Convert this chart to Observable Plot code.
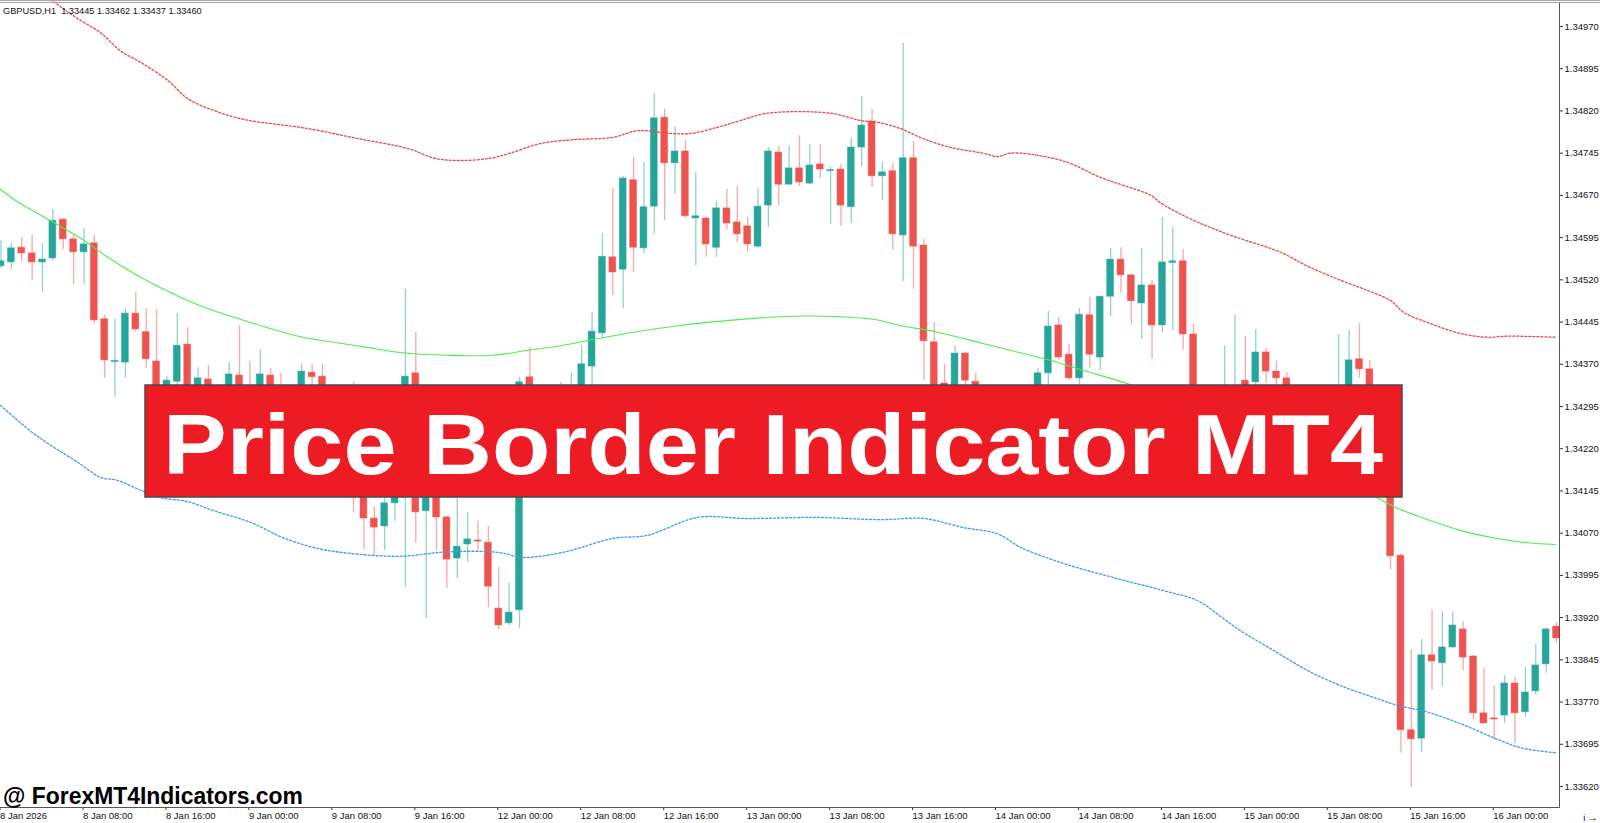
<!DOCTYPE html>
<html>
<head>
<meta charset="utf-8">
<script src="https://cdn.jsdelivr.net/npm/d3@7"></script>
<script src="https://cdn.jsdelivr.net/npm/@observablehq/plot@0.6"></script>
<style>
  html, body { margin: 0; padding: 0; background: #fff; overflow: hidden; }
  #chart svg { display: block; }
</style>
</head>
<body>
<div id="chart"></div>
<script>
const symbolHeader = "GBPUSD,H1  1.33445 1.33462 1.33437 1.33460";
const bannerText = "Price Border Indicator MT4";
const watermark = "@ ForexMT4Indicators.com";

const timeTicks = [0, 8, 16, 24, 32, 40, 48, 56, 64, 72, 80, 88, 96, 104, 112, 120, 128, 136, 144];
const timeLabels = ["8 Jan 2026", "8 Jan 08:00", "8 Jan 16:00", "9 Jan 00:00", "9 Jan 08:00", "9 Jan 16:00",
  "12 Jan 00:00", "12 Jan 08:00", "12 Jan 16:00", "13 Jan 00:00", "13 Jan 08:00", "13 Jan 16:00",
  "14 Jan 00:00", "14 Jan 08:00", "14 Jan 16:00", "15 Jan 00:00", "15 Jan 08:00", "15 Jan 16:00", "16 Jan 00:00"];
const priceTicks = [1.34970, 1.34895, 1.34820, 1.34745, 1.34670, 1.34595, 1.34520, 1.34445, 1.34370, 1.34295,
  1.34220, 1.34145, 1.34070, 1.33995, 1.33920, 1.33845, 1.33770, 1.33695, 1.33620];

const opens = [1.34544,1.34551,1.34577,1.34567,1.34551,1.34558,1.34627,1.34592,1.34569,1.34585,
1.34450,1.34374,1.34373,1.34460,1.34427,1.34375,1.34309,1.34339,1.34405,1.34320,
1.34343,1.34323,1.34309,1.34350,1.34320,1.34306,1.34350,1.34315,1.34299,1.34320,
1.34355,1.34348,1.34306,1.34261,1.34213,1.34142,1.34096,1.34082,1.34123,1.34155,
1.34354,1.34109,1.34164,1.34098,1.34025,1.34050,1.34057,1.34053,1.33936,1.33910,
1.33933,1.34347,1.34315,1.34288,1.34309,1.34306,1.34320,1.34366,1.34425,1.34560,
1.34538,1.34697,1.34576,1.34650,1.34808,1.34727,1.34748,1.34629,1.34629,1.34577,
1.34647,1.34622,1.34615,1.34579,1.34652,1.34746,1.34689,1.34718,1.34691,1.34725,
1.34713,1.34716,1.34649,1.34755,1.34801,1.34704,1.34713,1.34599,1.34736,1.34581,
1.34409,1.34336,1.34288,1.34389,1.34339,1.34306,1.34270,1.34297,1.34261,1.34306,
1.34315,1.34354,1.34439,1.34387,1.34345,1.34457,1.34382,1.34490,1.34556,1.34528,
1.34478,1.34510,1.34439,1.34550,1.34553,1.34423,1.34306,1.34279,1.34309,1.34323,
1.34341,1.34338,1.34391,1.34357,1.34345,1.34315,1.34288,1.34306,1.34284,1.34306,
1.34323,1.34379,1.34361,1.34270,1.34181,1.34030,1.33720,1.33705,1.33853,1.33839,
1.33867,1.33899,1.33851,1.33750,1.33741,1.33746,1.33803,1.33752,1.33789,1.33837,
1.33904];
const highs = [1.34590,1.34585,1.34595,1.34599,1.34585,1.34645,1.34628,1.34599,1.34611,1.34599,
1.34457,1.34450,1.34469,1.34498,1.34469,1.34467,1.34348,1.34460,1.34435,1.34364,
1.34368,1.34331,1.34373,1.34439,1.34375,1.34396,1.34363,1.34354,1.34327,1.34370,
1.34370,1.34370,1.34315,1.34274,1.34338,1.34153,1.34117,1.34139,1.34167,1.34503,
1.34427,1.34178,1.34181,1.34101,1.34133,1.34107,1.34091,1.34082,1.34009,1.33982,
1.34347,1.34400,1.34327,1.34323,1.34338,1.34354,1.34403,1.34462,1.34602,1.34682,
1.34704,1.34737,1.34729,1.34851,1.34823,1.34792,1.34768,1.34711,1.34631,1.34659,
1.34681,1.34686,1.34631,1.34682,1.34755,1.34757,1.34757,1.34776,1.34760,1.34760,
1.34720,1.34725,1.34771,1.34846,1.34823,1.34729,1.34727,1.34940,1.34766,1.34592,
1.34444,1.34370,1.34402,1.34391,1.34354,1.34320,1.34309,1.34309,1.34320,1.34331,
1.34363,1.34464,1.34453,1.34405,1.34469,1.34489,1.34491,1.34576,1.34577,1.34529,
1.34576,1.34519,1.34631,1.34613,1.34574,1.34441,1.34320,1.34323,1.34402,1.34457,
1.34419,1.34432,1.34398,1.34375,1.34355,1.34327,1.34320,1.34315,1.34323,1.34423,
1.34430,1.34442,1.34377,1.34279,1.34199,1.34034,1.33862,1.33881,1.33933,1.33931,
1.33931,1.33913,1.33852,1.33830,1.33798,1.33817,1.33814,1.33831,1.33872,1.33902,
1.33911];
const lows = [1.34540,1.34538,1.34553,1.34519,1.34498,1.34553,1.34574,1.34512,1.34512,1.34441,
1.34345,1.34311,1.34345,1.34428,1.34363,1.34302,1.34297,1.34327,1.34309,1.34306,
1.34313,1.34292,1.34302,1.34309,1.34288,1.34299,1.34306,1.34288,1.34284,1.34313,
1.34327,1.34288,1.34249,1.34190,1.34107,1.34041,1.34030,1.34039,1.34091,1.33974,
1.34052,1.33918,1.34039,1.33972,1.33989,1.34018,1.34036,1.33938,1.33899,1.33906,
1.33901,1.34302,1.34274,1.34270,1.34297,1.34288,1.34309,1.34332,1.34416,1.34492,
1.34469,1.34533,1.34567,1.34602,1.34625,1.34672,1.34629,1.34545,1.34560,1.34560,
1.34608,1.34586,1.34569,1.34576,1.34613,1.34652,1.34688,1.34686,1.34689,1.34700,
1.34618,1.34615,1.34620,1.34721,1.34684,1.34661,1.34572,1.34517,1.34503,1.34341,
1.34288,1.34279,1.34274,1.34315,1.34284,1.34252,1.34256,1.34235,1.34249,1.34288,
1.34302,1.34334,1.34377,1.34341,1.34334,1.34363,1.34359,1.34455,1.34496,1.34441,
1.34414,1.34379,1.34427,1.34430,1.34396,1.34288,1.34261,1.34270,1.34297,1.34306,
1.34306,1.34329,1.34336,1.34327,1.34306,1.34270,1.34279,1.34270,1.34274,1.34297,
1.34320,1.34345,1.34252,1.34160,1.34005,1.33679,1.33618,1.33680,1.33791,1.33798,
1.33866,1.33826,1.33739,1.33731,1.33702,1.33732,1.33696,1.33743,1.33782,1.33821,
1.33874];
const closes = [1.34553,1.34576,1.34567,1.34551,1.34556,1.34625,1.34592,1.34569,1.34583,1.34448,
1.34377,1.34375,1.34460,1.34432,1.34379,1.34315,1.34341,1.34403,1.34320,1.34345,
1.34323,1.34309,1.34352,1.34320,1.34306,1.34352,1.34315,1.34302,1.34320,1.34357,
1.34347,1.34306,1.34261,1.34213,1.34142,1.34096,1.34080,1.34123,1.34149,1.34348,
1.34107,1.34164,1.34098,1.34023,1.34046,1.34059,1.34055,1.33975,1.33906,1.33929,
1.34338,1.34315,1.34288,1.34315,1.34327,1.34327,1.34370,1.34428,1.34561,1.34533,
1.34700,1.34577,1.34649,1.34807,1.34727,1.34748,1.34633,1.34633,1.34583,1.34647,
1.34620,1.34601,1.34583,1.34650,1.34748,1.34689,1.34718,1.34693,1.34723,1.34716,
1.34714,1.34652,1.34755,1.34794,1.34704,1.34711,1.34601,1.34736,1.34579,1.34411,
1.34306,1.34297,1.34389,1.34341,1.34306,1.34270,1.34297,1.34261,1.34306,1.34323,
1.34354,1.34437,1.34382,1.34345,1.34458,1.34387,1.34490,1.34556,1.34528,1.34482,
1.34510,1.34439,1.34551,1.34553,1.34423,1.34306,1.34279,1.34315,1.34332,1.34331,
1.34320,1.34391,1.34357,1.34345,1.34315,1.34288,1.34306,1.34284,1.34309,1.34323,
1.34377,1.34361,1.34270,1.34181,1.34029,1.33720,1.33704,1.33853,1.33842,1.33867,
1.33906,1.33849,1.33750,1.33732,1.33739,1.33803,1.33750,1.33787,1.33835,1.33899,
1.33883];

// Price Border bands: [bar index, price]
const upperBand = [[3.8,1.35030],[5.3,1.35011],[7.4,1.34984],[9.6,1.34959],[11.5,1.34927],[13.5,1.34906],
[16.1,1.34874],[18.0,1.34842],[20.5,1.34821],[23.4,1.34805],[29.5,1.34789],[34.4,1.34771],[39.3,1.34753],
[41.8,1.34736],[44.3,1.34732],[47.2,1.34736],[49.1,1.34745],[52.0,1.34762],[55.2,1.34769],[59.0,1.34773],
[61.4,1.34785],[64.6,1.34780],[66.5,1.34780],[69.1,1.34791],[71.3,1.34803],[73.9,1.34816],[80.0,1.34816],
[82.9,1.34803],[84.5,1.34800],[86.7,1.34789],[88.9,1.34771],[91.6,1.34755],[94.7,1.34745],[96.1,1.34739],
[97.3,1.34745],[99.3,1.34743],[102.8,1.34729],[106.0,1.34702],[108.2,1.34688],[110.9,1.34670],[111.8,1.34657],
[113.1,1.34643],[115.7,1.34620],[118.6,1.34599],[123.4,1.34569],[125.9,1.34545],[129.2,1.34519],[131.8,1.34501],
[134.0,1.34483],[135.3,1.34462],[137.6,1.34444],[140.7,1.34425],[143.3,1.34418],[145.3,1.34420],[149.9,1.34418]];
const middleBand = [[-0.05,1.34681],[1.4,1.34661],[4.8,1.34625],[8.0,1.34590],[10.3,1.34560],[13.5,1.34524],
[17.3,1.34489],[19.9,1.34469],[23.1,1.34450],[25.7,1.34435],[28.9,1.34419],[32.1,1.34409],[35.3,1.34400],
[38.5,1.34391],[43.1,1.34386],[47.5,1.34386],[50.8,1.34395],[54.0,1.34403],[57.1,1.34414],[61.0,1.34427],
[65.5,1.34439],[70.3,1.34448],[75.5,1.34455],[80.3,1.34455],[84.1,1.34450],[86.7,1.34439],[90.3,1.34427],
[94.7,1.34407],[98.6,1.34389],[101.2,1.34377],[104.4,1.34359],[108.9,1.34334],[115.7,1.34288],[121.5,1.34235],
[127.2,1.34181],[132.7,1.34133],[134.7,1.34114],[137.6,1.34094],[140.7,1.34075],[143.9,1.34062],[147.2,1.34053],
[149.9,1.34050]];
const lowerBand = [[-0.05,1.34297],[2.8,1.34252],[4.8,1.34226],[7.4,1.34196],[9.6,1.34169],[11.2,1.34164],
[13.5,1.34146],[15.4,1.34133],[18.0,1.34126],[20.5,1.34110],[24.1,1.34089],[27.2,1.34062],[30.5,1.34043],
[33.7,1.34034],[38.5,1.34029],[43.1,1.34037],[47.9,1.34036],[50.4,1.34027],[54.2,1.34036],[59.1,1.34061],
[62.3,1.34066],[67.2,1.34098],[72.0,1.34096],[78.6,1.34098],[84.8,1.34094],[89.0,1.34096],[92.8,1.34080],
[96.1,1.34069],[98.3,1.34045],[102.5,1.34016],[107.3,1.33991],[112.1,1.33968],[115.4,1.33950],[117.9,1.33918],
[119.5,1.33897],[122.7,1.33862],[126.0,1.33826],[129.2,1.33799],[132.4,1.33778],[134.7,1.33764],[137.6,1.33752],
[140.7,1.33732],[143.9,1.33707],[146.5,1.33689],[149.9,1.33680]];

const bull = "#26a69a", bear = "#ef5350";
const candles = opens.map((o, i) => ({i, o, h: highs[i], l: lows[i], c: closes[i], up: closes[i] >= o}));

const W = 1600, H = 823, mR = 41, mB = 16;
const font = "'Liberation Sans', Arial, sans-serif";

const chart = Plot.plot({
  width: W, height: H,
  marginLeft: 0, marginRight: mR, marginTop: 0, marginBottom: mB,
  style: {fontFamily: font, fontSize: "9.5px", color: "#000", background: "#fff"},
  x: {domain: [-0.0482, 150.29], axis: null},
  y: {domain: [1.335827, 1.350162], axis: null},
  marks: [
    Plot.ruleX(candles, {x: "i", y1: "l", y2: "h", stroke: d => d.up ? bull : bear, strokeOpacity: 0.5, strokeWidth: 1.3}),
    Plot.rect(candles, {
      x1: d => d.i - 0.33, x2: d => d.i + 0.33,
      y1: d => Math.min(d.o, d.c),
      y2: d => Math.max(Math.max(d.o, d.c), Math.min(d.o, d.c) + 0.00002),
      fill: d => d.up ? bull : bear, stroke: d => d.up ? bull : bear, strokeOpacity: 0.45, strokeWidth: 1
    }),
    Plot.line(middleBand, {x: d => d[0], y: d => d[1], stroke: "#4ded4d", strokeWidth: 1.1, curve: "catmull-rom", clip: true}),
    Plot.line(upperBand, {x: d => d[0], y: d => d[1], stroke: "#f24444", strokeWidth: 1.3, strokeDasharray: "2,2", curve: "catmull-rom", clip: true}),
    Plot.line(lowerBand, {x: d => d[0], y: d => d[1], stroke: "#3b9bf5", strokeWidth: 1.3, strokeDasharray: "2,2", curve: "catmull-rom", clip: true}),
    Plot.axisY(priceTicks, {anchor: "right", tickSize: 3, tickPadding: 2, tickFormat: d => d.toFixed(5), stroke: "#333", fill: "#111"}),
    Plot.axisX(timeTicks, {anchor: "bottom", tickSize: 3, tickPadding: 2, textAnchor: "start", dx: -1,
      tickFormat: d => timeLabels[timeTicks.indexOf(d)], stroke: "#333", fill: "#111"})
  ]
});

document.getElementById("chart").appendChild(chart);

const svg = d3.select(chart);
const plotRight = W - mR, plotBottom = H - mB;
// frame lines (MT4 style)
svg.append("rect").attr("x", 0).attr("y", 0).attr("width", W).attr("height", 1).attr("fill", "#a6a6a6");
svg.append("rect").attr("x", 0).attr("y", 2).attr("width", W).attr("height", 1).attr("fill", "#a6a6a6");
svg.append("line").attr("x1", plotRight + 0.5).attr("x2", plotRight + 0.5).attr("y1", 3).attr("y2", plotBottom + 0.5)
  .attr("stroke", "#555").attr("stroke-width", 1);
svg.append("line").attr("x1", 0).attr("x2", plotRight + 0.5).attr("y1", plotBottom + 0.5).attr("y2", plotBottom + 0.5)
  .attr("stroke", "#555").attr("stroke-width", 1);

// header
svg.append("text").attr("x", 3).attr("y", 14).attr("text-anchor", "start").attr("font-family", font)
  .attr("font-size", 9.2).attr("fill", "#111")
  .attr("xml:space", "preserve").style("white-space", "pre").text(symbolHeader);

// banner
svg.append("rect").attr("x", 145).attr("y", 385).attr("width", 1257).attr("height", 112)
  .attr("fill", "#ed1c24").attr("stroke", "#4a4a4a").attr("stroke-width", 1.5);
svg.append("text").attr("x", 163).attr("y", 474).attr("text-anchor", "start").attr("font-family", font)
  .attr("font-weight", "bold")
  .attr("font-size", 85).attr("fill", "#fff").attr("textLength", 1220).attr("lengthAdjust", "spacingAndGlyphs")
  .text(bannerText);

// watermark
svg.append("text").attr("x", 3).attr("y", 804).attr("text-anchor", "start").attr("font-family", font)
  .attr("font-weight", "bold")
  .attr("font-size", 23).attr("fill", "#000").attr("textLength", 300).attr("lengthAdjust", "spacingAndGlyphs")
  .text(watermark);
</script>
</body>
</html>
